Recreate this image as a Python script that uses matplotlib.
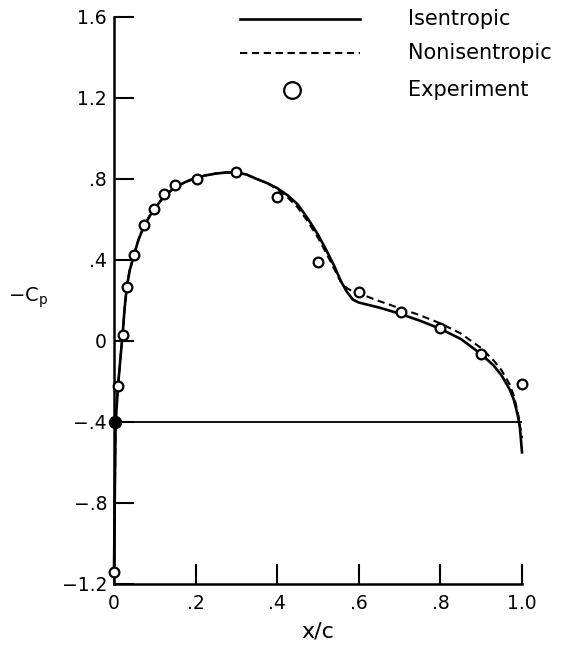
import matplotlib
matplotlib.use("Agg")
import matplotlib.pyplot as plt

plt.rcParams['font.family'] = ['DejaVu Sans']

# Upper-surface pressure distributions, -Cp versus x/c
isen_x = [0.0, 0.002, 0.004, 0.010, 0.016, 0.021, 0.026, 0.031, 0.038, 0.049, 0.06,
          0.074, 0.087, 0.10, 0.123, 0.15, 0.175, 0.20, 0.225, 0.25, 0.275, 0.30,
          0.325, 0.35, 0.375, 0.40, 0.425, 0.45, 0.475, 0.50, 0.52, 0.54, 0.555,
          0.57, 0.585, 0.60, 0.65, 0.70, 0.75, 0.80, 0.85, 0.90, 0.93, 0.95, 0.97,
          0.98, 0.99, 0.995, 1.0]
isen_cp = [-1.15, -0.75, -0.40, -0.22, -0.08, 0.03, 0.16, 0.26, 0.345, 0.425, 0.50,
           0.57, 0.615, 0.655, 0.715, 0.76, 0.785, 0.805, 0.818, 0.827, 0.832, 0.832,
           0.822, 0.80, 0.78, 0.755, 0.72, 0.675, 0.605, 0.525, 0.45, 0.37, 0.30,
           0.245, 0.205, 0.19, 0.165, 0.135, 0.10, 0.06, 0.01, -0.065, -0.12, -0.17,
           -0.24, -0.29, -0.37, -0.43, -0.55]

nonisen_x = [0.0, 0.002, 0.004, 0.010, 0.016, 0.021, 0.026, 0.031, 0.038, 0.049, 0.06,
             0.074, 0.087, 0.10, 0.123, 0.15, 0.175, 0.20, 0.225, 0.25, 0.275, 0.30,
             0.325, 0.35, 0.375, 0.40, 0.425, 0.45, 0.475, 0.50, 0.52, 0.54, 0.555,
             0.57, 0.585, 0.60, 0.65, 0.70, 0.75, 0.80, 0.85, 0.90, 0.93, 0.95, 0.97,
             0.98, 0.99, 0.995, 1.0]
nonisen_cp = [-1.15, -0.75, -0.40, -0.22, -0.08, 0.03, 0.16, 0.26, 0.345, 0.425, 0.50,
              0.57, 0.615, 0.655, 0.715, 0.76, 0.785, 0.805, 0.818, 0.827, 0.832, 0.832,
              0.822, 0.80, 0.78, 0.75, 0.71, 0.66, 0.59, 0.51, 0.435, 0.355, 0.295,
              0.262, 0.245, 0.235, 0.197, 0.162, 0.127, 0.087, 0.037, -0.035, -0.095,
              -0.145, -0.215, -0.27, -0.355, -0.42, -0.48]

# Lower surface
lower_x = [0.003, 1.0]
lower_cp = [-0.40, -0.40]

# Experimental data
exp_x = [0.0, 0.010, 0.021, 0.031, 0.049, 0.074, 0.098, 0.123, 0.15, 0.203, 0.30,
         0.40, 0.50, 0.60, 0.703, 0.80, 0.90, 1.0]
exp_cp = [-1.14, -0.22, 0.03, 0.267, 0.425, 0.573, 0.65, 0.725, 0.77, 0.80, 0.835,
          0.71, 0.39, 0.24, 0.145, 0.063, -0.066, -0.21]
stag_x = [0.003]
stag_cp = [-0.40]

x_ticks = [0, 0.2, 0.4, 0.6, 0.8, 1.0]
x_ticklabels = ["0", ".2", ".4", ".6", ".8", "1.0"]
y_ticks = [-1.2, -0.8, -0.4, 0, 0.4, 0.8, 1.2, 1.6]
y_ticklabels = ["\u22121.2", "\u2212.8", "\u2212.4", "0", ".4", ".8", "1.2", "1.6"]

legend_labels = ["Isentropic", "Nonisentropic", "Experiment"]

fig = plt.figure(figsize=(5.74, 6.46), dpi=100)
ax = fig.add_axes([0.1986, 0.096, 0.7108, 0.8777])

ax.plot(lower_x, lower_cp, color="black", lw=1.3, solid_capstyle="butt")
ax.plot(isen_x, isen_cp, color="black", lw=1.9, clip_on=False)
ax.plot(nonisen_x, nonisen_cp, color="black", lw=1.5, linestyle=(0, (3.5, 2.2)),
        clip_on=False)
ax.plot(exp_x, exp_cp, linestyle="none", marker="o", ms=7, mew=1.6,
        mfc="white", mec="black", clip_on=False, zorder=5)
ax.plot(stag_x, stag_cp, linestyle="none", marker="o", ms=8, mew=1.6,
        mfc="black", mec="black", clip_on=False, zorder=5)

ax.set_xlim(0, 1.0)
ax.set_ylim(-1.2, 1.6)
for side in ("top", "right"):
    ax.spines[side].set_visible(False)
for side in ("left", "bottom"):
    ax.spines[side].set_linewidth(1.8)

ax.set_xticks(x_ticks)
ax.set_xticklabels(x_ticklabels)
ax.set_yticks(y_ticks)
ax.set_yticklabels(y_ticklabels)
ax.tick_params(axis="both", direction="in", length=14.5, width=1.5, labelsize=13.5)
ax.tick_params(axis="x", pad=7)
ax.tick_params(axis="y", pad=5)

ax.text(0.5, -1.435, "x/c", ha="center", va="center", fontsize=16,
        transform=ax.transData, clip_on=False)
fig.text(0.049, 0.539, "\u2212C$_\\mathsf{p}$", ha="center", va="center", fontsize=14)

# Legend drawn in data coordinates at the top of the plot
ax.plot([0.309, 0.603], [1.59, 1.59], color="black", lw=1.9, clip_on=False)
ax.plot([0.309, 0.603], [1.42, 1.42], color="black", lw=1.5,
        linestyle=(0, (3.5, 2.2)), clip_on=False)
ax.plot([0.436], [1.24], linestyle="none", marker="o", ms=12, mew=1.6,
        mfc="white", mec="black", clip_on=False)
for yy, lab in zip([1.59, 1.42, 1.24], legend_labels):
    ax.text(0.72, yy, lab, ha="left", va="center", fontsize=15, clip_on=False)

fig.savefig("out.png", dpi=100)
